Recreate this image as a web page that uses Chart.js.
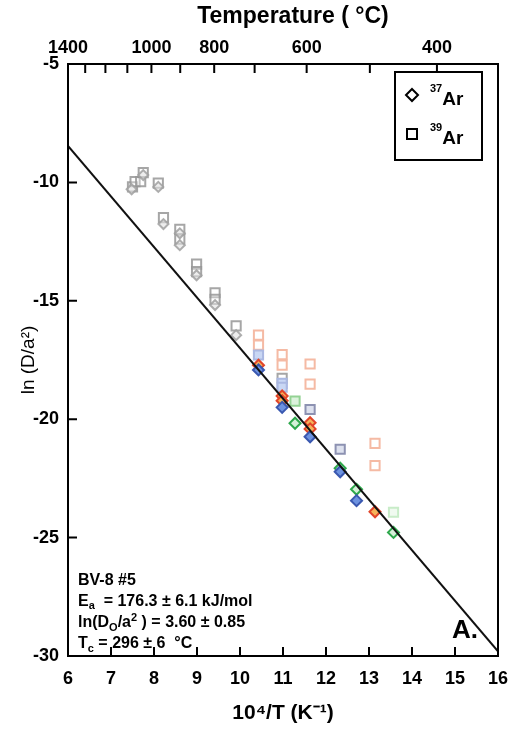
<!DOCTYPE html>
<html lang="es">
<head>
<meta charset="utf-8">
<title>BV-8 #5 - Arrhenius</title>
<script src="https://cdn.jsdelivr.net/npm/chart.js@4.4.1/dist/chart.umd.min.js"></script>
<style>
  html, body { margin: 0; padding: 0; background: #fff; }
  #caja { width: 509px; height: 734px; }
</style>
</head>
<body>
<div id="caja"><canvas id="grafico1" width="509" height="734"></canvas></div>
<script>
// 10^4/T (K^-1) contra ln(D/a^2)

// pasos de alta temperatura (gris)
const gris39X = [7.50, 7.56, 7.69, 7.75, 8.10, 8.22, 8.60, 8.60, 8.99, 8.99, 9.42, 9.42, 9.91, 10.98];
const gris39Y = [-10.19, -9.97, -9.97, -9.59, -10.03, -11.49, -11.98, -12.40, -13.45, -13.77, -14.66, -14.94, -16.06, -18.27];
const gris37X = [7.48, 7.75, 8.10, 8.22, 8.60, 8.60, 8.99, 9.42, 9.91];
const gris37Y = [-10.29, -9.69, -10.19, -11.76, -12.15, -12.65, -13.92, -15.18, -16.45];

// 39Ar, pasos de baja temperatura
const salmon39X = [10.43, 10.43, 10.98, 10.98, 11.63, 11.63, 13.14, 13.14];
const salmon39Y = [-16.45, -16.87, -17.27, -17.72, -17.67, -18.52, -21.02, -21.96];
const celeste39X = [10.43, 10.98, 10.98];
const celeste39Y = [-17.29, -18.49, -18.65];
const pizarra39X = [11.63, 12.33];
const pizarra39Y = [-19.59, -21.27];
const verde39X = [11.28, 13.57];
const verde39Y = [-19.24, -23.93];

// 37Ar, pasos de baja temperatura
const rojo37X = [10.43, 10.98, 10.98, 11.63, 11.63, 13.14];
const rojo37Y = [-17.72, -19.02, -19.22, -20.15, -20.41, -23.91];
const azul37X = [10.43, 10.98, 11.63, 12.33, 12.71];
const azul37Y = [-17.92, -19.50, -20.74, -22.22, -23.44];
const verde37X = [11.28, 12.33, 12.71, 13.57];
const verde37Y = [-20.17, -22.07, -22.96, -24.78];

// recta de ajuste
const ajusteX = [6, 16];
const ajusteY = [-8.46, -29.8];

// eje superior: temperatura en grados C
const tempX = [6, 6.40, 6.87, 7.38, 7.94, 8.61, 9.40, 10.34, 11.55, 13.02, 14.58];
const tempEtiquetas = ['1400', '', '', '', '1000', '', '800', '', '600', '', '400'];

const fuente = '"Liberation Sans", Arial, Helvetica, sans-serif';

function puntos(xs, ys) {
  return xs.map((x, i) => ({ x: x, y: ys[i] }));
}

function serie(xs, ys, estilo, borde, relleno, radio) {
  return {
    data: puntos(xs, ys),
    pointStyle: estilo,
    pointRadius: radio,
    pointBorderWidth: 2,
    pointBorderColor: borde,
    pointBackgroundColor: relleno,
    showLine: false
  };
}

// texto con sub/superindices: [texto, tamaño, desplazamiento]
function textoRico(ctx, partes, x, y) {
  let cx = x;
  partes.forEach(p => {
    ctx.font = 'bold ' + p[1] + 'px ' + fuente;
    ctx.fillText(p[0], cx, y + (p[2] || 0));
    cx += ctx.measureText(p[0]).width;
  });
}

// sin margen extra por las etiquetas de los extremos
function ajustarEje(alto) {
  return s => {
    s.height = alto;
    s.paddingLeft = 0;
    s.paddingRight = 0;
  };
}

const marcos = {
  id: 'marcos',
  afterDatasetsDraw(chart) {
    const { ctx, chartArea: a, scales } = chart;
    ctx.save();
    ctx.strokeStyle = '#000';
    ctx.fillStyle = '#000';
    ctx.lineWidth = 2;

    // marcas hacia dentro
    ctx.beginPath();
    scales.x.ticks.forEach(t => {
      const p = scales.x.getPixelForValue(t.value);
      ctx.moveTo(p, a.bottom); ctx.lineTo(p, a.bottom - 9);
    });
    scales.xTop.ticks.forEach(t => {
      const p = scales.xTop.getPixelForValue(t.value);
      ctx.moveTo(p, a.top); ctx.lineTo(p, a.top + 9);
    });
    scales.y.ticks.forEach(t => {
      const p = scales.y.getPixelForValue(t.value);
      ctx.moveTo(a.left, p); ctx.lineTo(a.left + 9, p);
    });
    ctx.stroke();
    ctx.strokeRect(a.left, a.top, a.right - a.left, a.bottom - a.top);

    // titulo del eje superior
    ctx.textAlign = 'center';
    ctx.textBaseline = 'middle';
    textoRico(ctx, [['Temperature ( \u00b0C)', 23]], a.left + 225, 17);

    // leyenda
    const lx = a.right - 103, ly = a.top + 8;
    ctx.fillStyle = '#fff';
    ctx.fillRect(lx, ly, 87, 88);
    ctx.fillStyle = '#000';
    ctx.strokeRect(lx, ly, 87, 88);
    ctx.beginPath();
    ctx.moveTo(lx + 17, ly + 17);
    ctx.lineTo(lx + 23, ly + 23);
    ctx.lineTo(lx + 17, ly + 29);
    ctx.lineTo(lx + 11, ly + 23);
    ctx.closePath();
    ctx.stroke();
    ctx.strokeRect(lx + 12, ly + 57, 10, 10);
    ctx.textBaseline = 'alphabetic';
    ctx.textAlign = 'left';
    textoRico(ctx, [['37', 11, -13], ['Ar', 19]], lx + 35, ly + 33);
    textoRico(ctx, [['39', 11, -13], ['Ar', 19]], lx + 35, ly + 72);

    // datos de la muestra
    const tx = a.left + 10, tb = a.bottom - 8;
    textoRico(ctx, [['BV-8 #5', 16]], tx, tb - 63);
    textoRico(ctx, [['E', 16], ['a', 11, 3], ['  = 176.3 \u00b1 6.1 kJ/mol', 16]], tx, tb - 42);
    textoRico(ctx, [['ln(D', 16], ['O', 11, 4], ['/a', 16], ['2', 11, -6], [' ) = 3.60 \u00b1 0.85', 16]], tx, tb - 21);
    textoRico(ctx, [['T', 16], ['c', 11, 4], [' = 296 \u00b1 6  \u00b0C', 16]], tx, tb);

    ctx.textAlign = 'right';
    textoRico(ctx, [['A.', 26]], a.right - 20, a.bottom - 18);
    ctx.restore();
  }
};

const fuenteEje = { family: fuente, size: 18, weight: 'bold' };

new Chart(document.getElementById('grafico1').getContext('2d'), {
  type: 'scatter',
  data: {
    datasets: [
      {
        type: 'line',
        data: puntos(ajusteX, ajusteY),
        borderColor: '#111',
        borderWidth: 2,
        pointRadius: 0,
        fill: false
      },
      serie(azul37X, azul37Y, 'rectRot', '#3a58b0', '#6d92e0', 5.5),
      serie(rojo37X, rojo37Y, 'rectRot', '#e2452a', '#f6b35a', 5.5),
      serie(verde37X, verde37Y, 'rectRot', '#2ea84c', '#d4f1d8', 5.5),
      serie(gris37X, gris37Y, 'rectRot', 'rgba(160,160,160,0.85)', 'rgba(225,225,225,0.6)', 5),
      serie(pizarra39X, pizarra39Y, 'rect', '#8d92b2', '#dde1ee', 6.5),
      serie(celeste39X, celeste39Y, 'rect', '#aab8e2', '#c9d7f4', 6.5),
      serie(verde39X, verde39Y, 'rect', ['#93d293', '#c8ecc8'], ['#dcf2dc', '#f0faf0'], 6.5),
      serie(salmon39X, salmon39Y, 'rect', '#f5baa4', 'rgba(255,255,255,0)', 6.5),
      serie(gris39X, gris39Y, 'rect', 'rgba(150,150,150,0.85)', 'rgba(255,255,255,0.3)', 6.5)
    ]
  },
  options: {
    responsive: false,
    animation: false,
    layout: { padding: { left: 0, right: 11, top: 0, bottom: 0 } },
    plugins: {
      legend: { display: false },
      tooltip: { enabled: false }
    },
    scales: {
      x: {
        type: 'linear',
        position: 'bottom',
        min: 6,
        max: 16,
        afterFit: ajustarEje(78),
        grid: { display: false, drawTicks: false },
        border: { display: false },
        ticks: { stepSize: 1, padding: 12, color: '#000', font: fuenteEje, maxRotation: 0 },
        title: {
          display: true,
          text: '10\u2074/T (K\u207b\u00b9)',
          color: '#000',
          font: { family: fuente, size: 21, weight: 'bold' },
          padding: { top: 0, bottom: 8 }
        }
      },
      xTop: {
        type: 'linear',
        axis: 'x',
        position: 'top',
        min: 6,
        max: 16,
        afterFit: ajustarEje(64),
        afterBuildTicks: s => { s.ticks = tempX.map(v => ({ value: v })); },
        grid: { display: false, drawTicks: false },
        border: { display: false },
        ticks: {
          autoSkip: false,
          maxRotation: 0,
          padding: 5,
          color: '#000',
          font: fuenteEje,
          callback: (v, i) => tempEtiquetas[i]
        }
      },
      y: {
        type: 'linear',
        min: -30,
        max: -5,
        afterFit: s => { s.width = 68; },
        grid: { display: false, drawTicks: false },
        border: { display: false },
        ticks: { stepSize: 5, padding: 9, color: '#000', font: fuenteEje },
        title: {
          display: true,
          text: 'ln (D/a\u00b2)',
          color: '#000',
          font: { family: fuente, size: 19, weight: 'normal' },
          padding: { top: 17, bottom: 0 }
        }
      }
    }
  },
  plugins: [marcos]
});
</script>
</body>
</html>
